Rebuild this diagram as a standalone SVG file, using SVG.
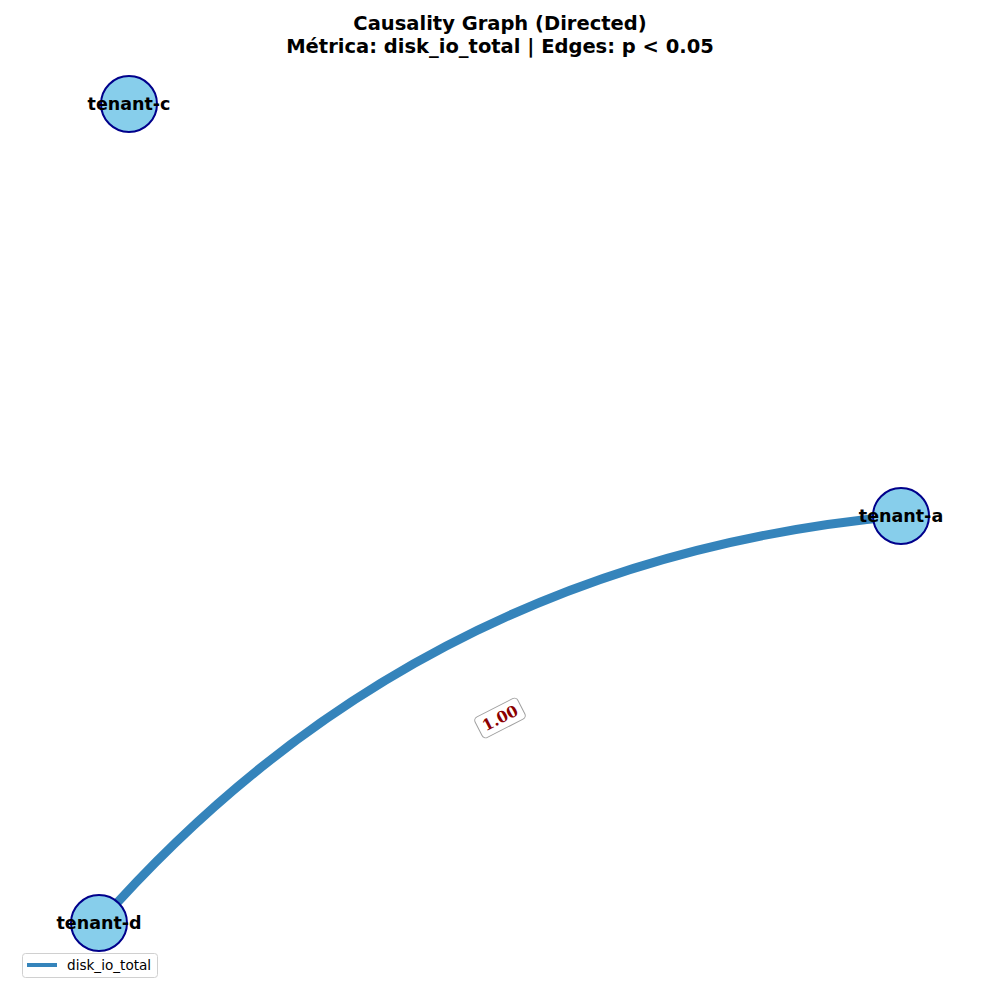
<svg xmlns="http://www.w3.org/2000/svg" width="1000" height="1000" viewBox="0 0 1000 1000">
<style>
.title{font-family:"DejaVu Sans",sans-serif;font-weight:bold;font-size:19.5px;fill:#000;text-anchor:middle}
.node circle{fill:#87ceeb;stroke:#00008b;stroke-width:2}
.node text{font-family:"DejaVu Sans",sans-serif;font-weight:bold;font-size:17.5px;fill:#000;text-anchor:middle;dominant-baseline:central}
.edge{fill:none;stroke:#1f77b4;stroke-opacity:0.9;stroke-width:9}
.elabel{font-family:"DejaVu Serif",serif;font-weight:bold;font-size:15.5px;fill:#8b0000;text-anchor:middle;dominant-baseline:central}
.legend text{font-family:"DejaVu Sans",sans-serif;font-size:13.6px;fill:#000}
</style>
<rect width="1000" height="1000" fill="#fff"/>
<text class="title" x="500" y="30">Causality Graph (Directed)</text>
<text class="title" x="500" y="53">Métrica: disk_io_total | Edges: p &lt; 0.05</text>
<g id="connectors">
<path id="edge-a-d" class="edge" d="M901 516 Q418.6 559.1 99 923"/>
</g>
<g id="node-tenant-c" class="node"><circle cx="129" cy="104" r="28"/><text x="129" y="104">tenant-c</text></g>
<g id="node-tenant-a" class="node"><circle cx="901" cy="516" r="28"/><text x="901" y="516">tenant-a</text></g>
<g id="node-tenant-d" class="node"><circle cx="99" cy="923" r="28"/><text x="99" y="923">tenant-d</text></g>
<g id="edge-label" transform="translate(500 718) rotate(-27)">
<rect x="-24" y="-11.5" width="48" height="23" rx="4" fill="#fff" stroke="#a0a0a0" stroke-width="1"/>
<text class="elabel" x="0" y="0">1.00</text>
</g>
<g id="legend" class="legend">
<rect x="22.5" y="953.5" width="135" height="24" rx="3" fill="#fff" stroke="#d0d0d0" stroke-width="1"/>
<line x1="27" y1="965" x2="57" y2="965" stroke="#1f77b4" stroke-opacity="0.9" stroke-width="4"/>
<text x="67" y="970">disk_io_total</text>
</g>
</svg>
